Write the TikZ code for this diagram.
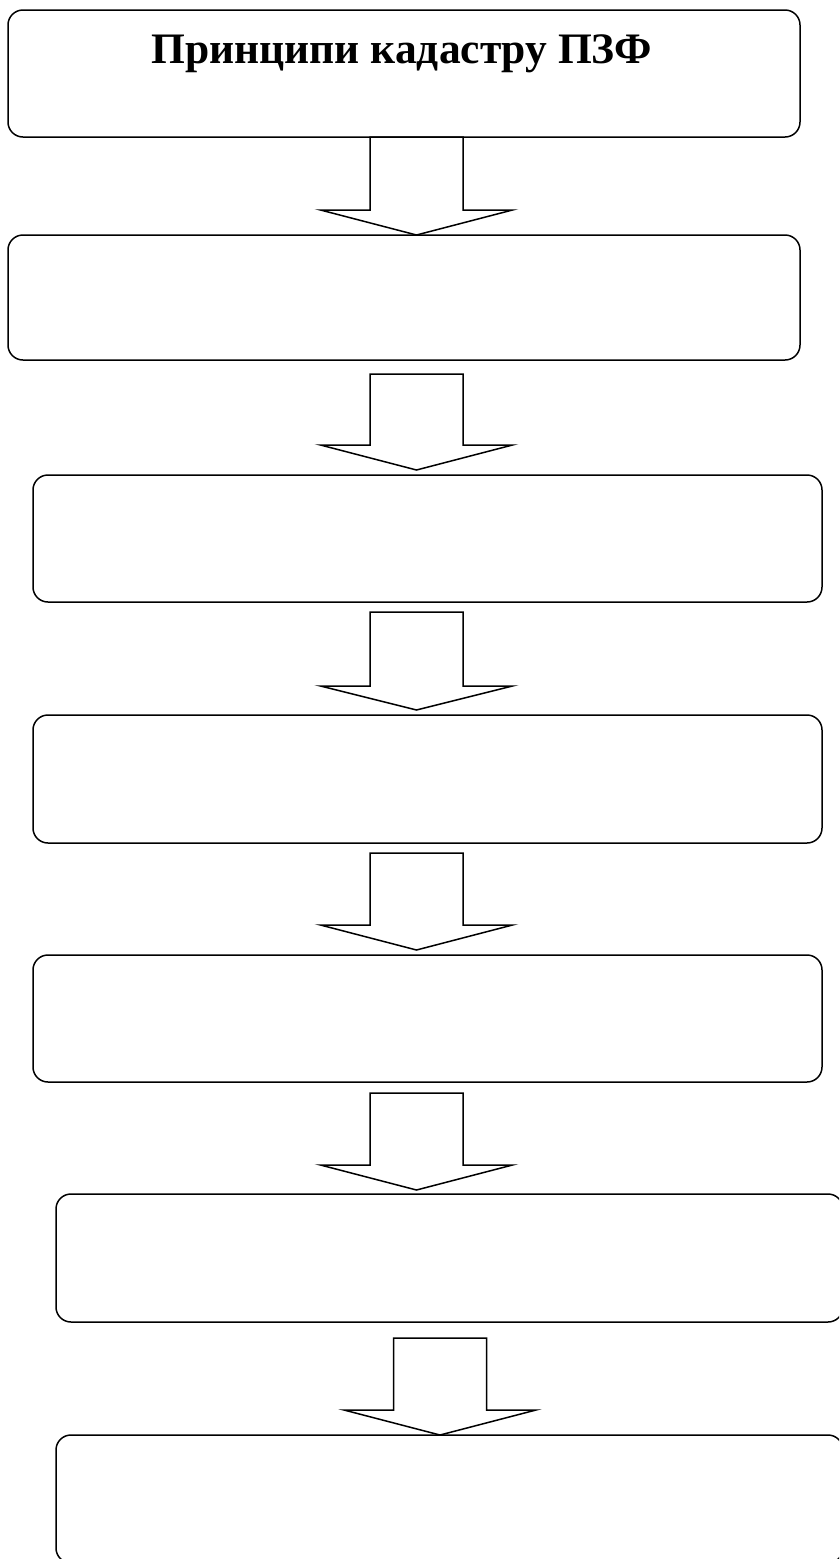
\documentclass[tikz,border=0pt]{standalone}
\usepackage{fontspec}
\setmainfont{Liberation Serif}
\begin{document}
\begin{tikzpicture}[x=1pt,y=-1pt,
  stagebox/.style={draw=black,line width=1.5pt,rounded corners=15pt,fill=white},
  blockarrow/.style={draw=black,line width=1.5pt,fill=white,line join=miter}]
\useasboundingbox (0,0) rectangle (839,1559);
\clip (0,0) rectangle (839,1559);
% boxes
\draw[stagebox] (8,10) rectangle (800,137);
\node[anchor=base,inner sep=0pt,font=\fontsize{43.5}{50}\selectfont\bfseries] (title) at (402,63) {Принципи кадастру ПЗФ};
\draw[stagebox] (8,235) rectangle (800,360);
\draw[stagebox] (33,475) rectangle (822,602);
\draw[stagebox] (33,715) rectangle (822,843);
\draw[stagebox] (33,955) rectangle (822,1082);
\draw[stagebox] (56,1194) rectangle (843,1322);
\draw[stagebox] (56,1435) rectangle (843,1563);
% arrows: cx, top, shoulder, tip
\newcommand{\blockarr}[4]{%
  \draw[blockarrow] ({#1-46.5},#2) -- ({#1+46.5},#2) -- ({#1+46.5},#3) -- ({#1+96},#3)
    -- (#1,#4) -- ({#1-96},#3) -- ({#1-46.5},#3) -- cycle;}
\blockarr{416.5}{137}{210}{235}
\blockarr{416.5}{374}{445}{470}
\blockarr{416.5}{612}{686}{710}
\blockarr{416.5}{853}{925}{950}
\blockarr{416.5}{1093}{1165}{1190}
\blockarr{440}{1338}{1410}{1435}
\end{tikzpicture}
\end{document}
